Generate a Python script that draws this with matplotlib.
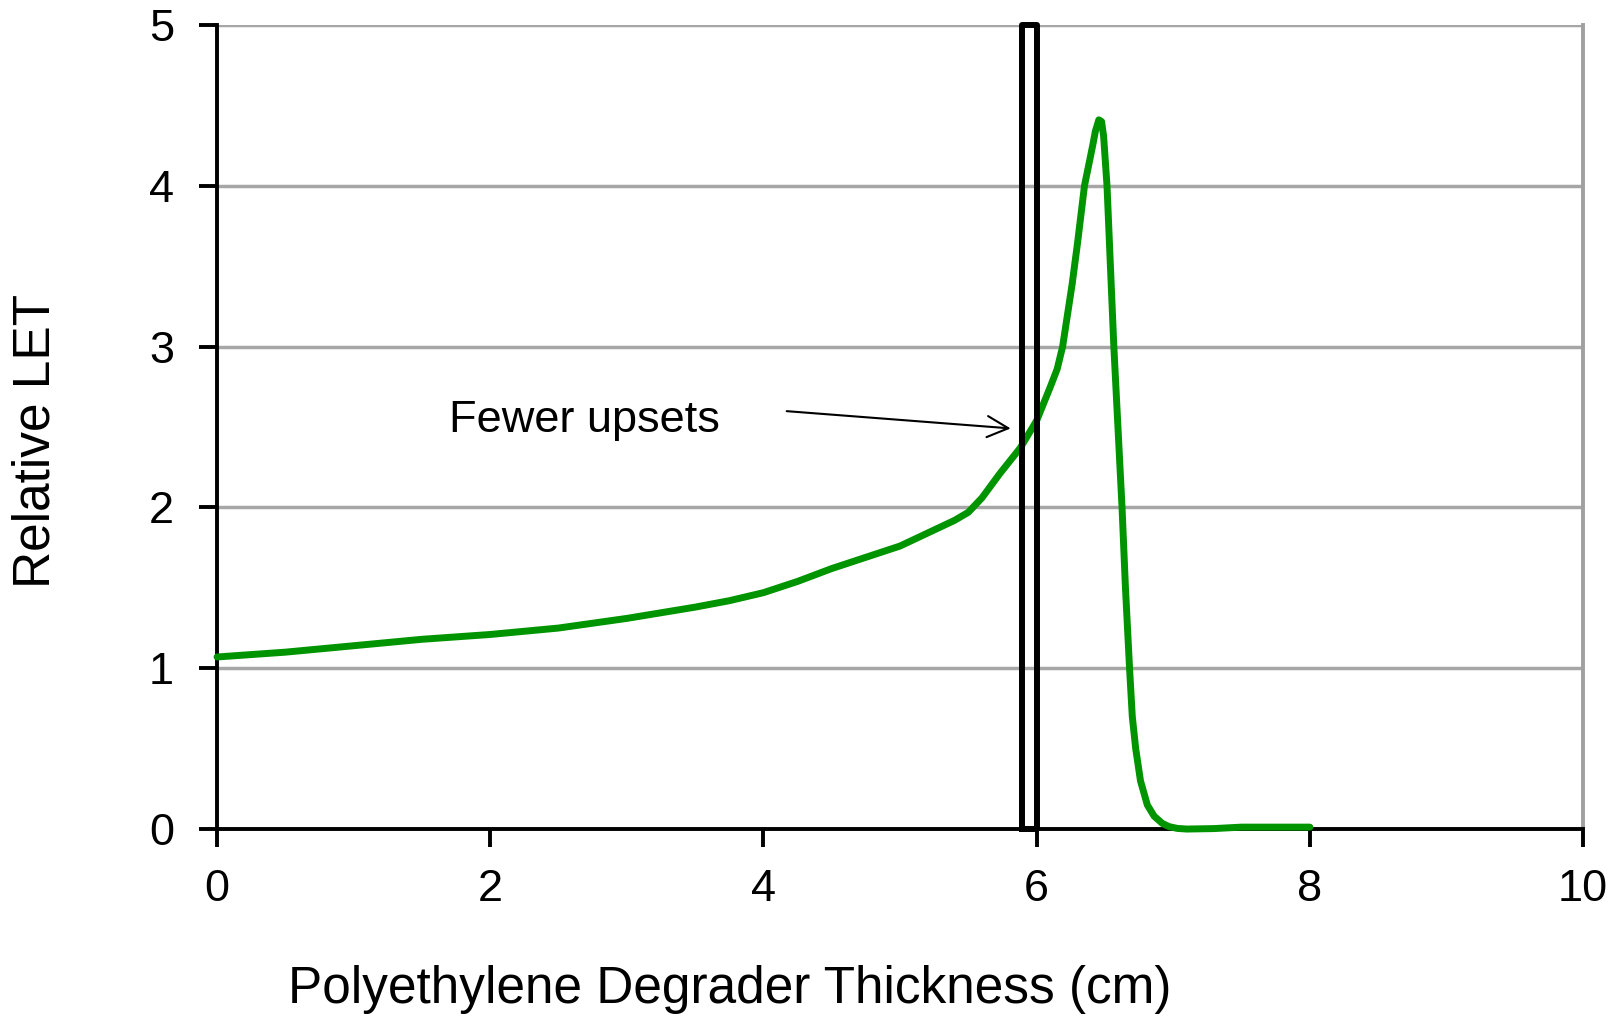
import matplotlib.pyplot as plt

plt.rcParams['font.family'] = ['Liberation Sans', 'DejaVu Sans']

# LET curve
thickness = [0.0, 0.5, 1.0, 1.5, 2.0, 2.5, 3.0, 3.5, 3.75, 4.0, 4.25, 4.5,
             4.75, 5.0, 5.25, 5.4, 5.5, 5.6, 5.73, 5.88, 6.0, 6.1, 6.15, 6.19,
             6.26, 6.30, 6.35, 6.41, 6.43, 6.455, 6.475, 6.49, 6.515, 6.54,
             6.565, 6.595, 6.625, 6.65, 6.68, 6.70, 6.725, 6.76, 6.81, 6.86,
             6.92, 6.97, 7.03, 7.1, 7.3, 7.5, 7.8, 8.0]
rel_let = [1.07, 1.10, 1.14, 1.18, 1.21, 1.25, 1.31, 1.38, 1.42, 1.47, 1.54,
           1.62, 1.69, 1.76, 1.86, 1.92, 1.97, 2.06, 2.21, 2.37, 2.54, 2.75,
           2.86, 3.0, 3.39, 3.65, 4.0, 4.25, 4.34, 4.41, 4.40, 4.31, 4.0,
           3.5, 3.0, 2.5, 2.0, 1.5, 1.0, 0.7, 0.5, 0.3, 0.15, 0.08, 0.035,
           0.015, 0.004, 0.0, 0.003, 0.012, 0.012, 0.012]

# window where fewer upsets happen
win_x = [5.89, 5.89, 6.0, 6.0, 5.89]
win_y = [0, 5, 5, 0, 0]

xticks = [0, 2, 4, 6, 8, 10]
yticks = [0, 1, 2, 3, 4, 5]

fig = plt.figure(figsize=(16.21, 10.16), dpi=100)
ax = fig.add_axes([0.1339, 0.184, 0.8427, 0.7914])

ax.set_xlim(0, 10)
ax.set_ylim(0, 5)
ax.set_xticks(xticks)
ax.set_yticks(yticks)

ax.grid(axis='y', color='#a6a6a6', linewidth=2.5, zorder=0)
ax.set_axisbelow(True)

ax.plot(thickness, rel_let, color='#009400', linewidth=5.0, zorder=3,
        solid_capstyle='round', solid_joinstyle='round', clip_on=False)
ax.plot(win_x, win_y, color='black', linewidth=4.3, zorder=4, clip_on=False)

ax.annotate('', xy=(5.83, 2.49), xytext=(4.15, 2.6),
            arrowprops=dict(arrowstyle='->', color='black', lw=1.5,
                            mutation_scale=38))
ax.text(1.7, 2.54, 'Fewer upsets', fontsize=32.5, va='center', ha='left')

for side in ['left', 'bottom']:
    ax.spines[side].set_color('black')
    ax.spines[side].set_linewidth(2.8)
ax.spines['top'].set_visible(False)
ax.spines['right'].set_color('#a0a0a0')
ax.spines['right'].set_linewidth(2.8)

ax.tick_params(axis='both', direction='out', length=13, width=2.8,
               labelsize=32.5, colors='black')
ax.tick_params(axis='x', pad=16)
ax.tick_params(axis='y', pad=18)

ax.set_xlabel('Polyethylene Degrader Thickness (cm)', fontsize=37,
              va='center', ha='center')
ax.set_ylabel('Relative LET', fontsize=37, va='center', ha='center')
ax.xaxis.set_label_coords(0.375, -0.199)
ax.yaxis.set_label_coords(-0.1325, 0.483)

fig.savefig('out.png', dpi=100)
